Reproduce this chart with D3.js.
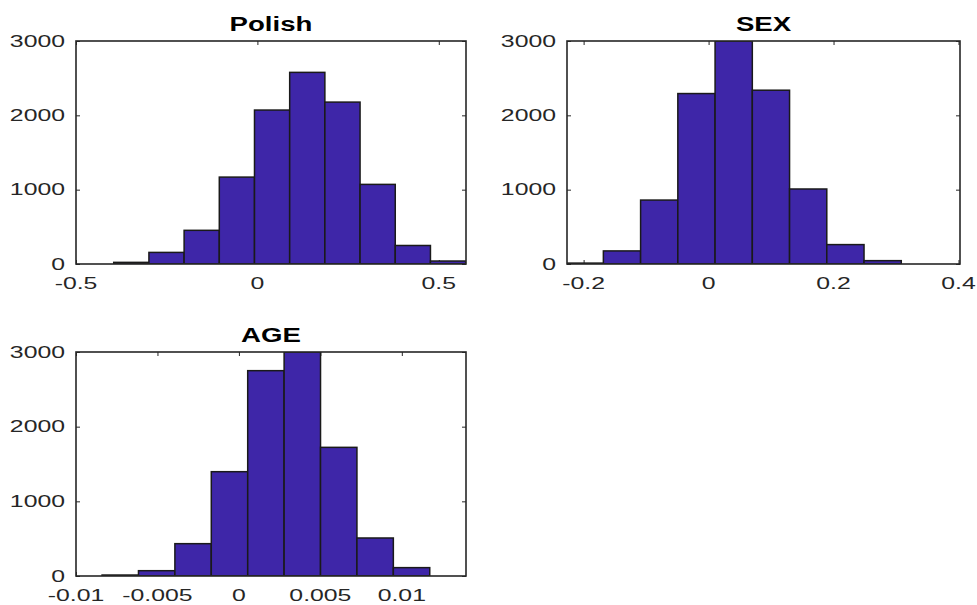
<!DOCTYPE html>
<html>
<head>
<meta charset="utf-8">
<script src="https://cdn.jsdelivr.net/npm/d3@7"></script>
<style>
  body { margin: 0; background: #fff; }
  svg { display: block; font-family: "Liberation Sans", Arial, Helvetica, sans-serif; }
</style>
</head>
<body>
<div id="chart"></div>
<script>
// histogram data (bin edges + counts per bin)
const edgesPolish = [-0.396, -0.299, -0.202, -0.105, -0.008, 0.089, 0.186, 0.283, 0.380, 0.477, 0.574];
const countsPolish = [22, 156, 453, 1169, 2071, 2578, 2178, 1071, 249, 40];

const edgesSex = [-0.228, -0.1684, -0.1088, -0.0492, 0.0104, 0.0700, 0.1296, 0.1892, 0.2488, 0.3084, 0.3680];
const countsSex = [12, 176, 860, 2293, 3000, 2338, 1009, 261, 45, 0];

const edgesAge = [-0.0084, -0.006165, -0.00393, -0.001695, 0.00054, 0.002775, 0.00501, 0.007245, 0.00948, 0.011715, 0.01395];
const countsAge = [13, 71, 433, 1397, 2750, 3000, 1723, 509, 112, 0];

const xTicksPolish = [-0.5, 0, 0.5];
const xLabelsPolish = ["-0.5", "0", "0.5"];
const xTicksSex = [-0.2, 0, 0.2, 0.4];
const xLabelsSex = ["-0.2", "0", "0.2", "0.4"];
const xTicksAge = [-0.01, -0.005, 0, 0.005, 0.01];
const xLabelsAge = ["-0.01", "-0.005", "0", "0.005", "0.01"];

const yTicks = [0, 1000, 2000, 3000];
const yLabels = ["0", "1000", "2000", "3000"];

const width = 977, height = 605;
const barColor = "#3e26a8";
const axisColor = "#262626";
const tickLen = 4;
const labelStretch = 1.55;
const titleStretch = 1.38;

const panels = [
  { title: "Polish", edges: edgesPolish, counts: countsPolish, xDomain: [-0.5, 0.575],
    xTicks: xTicksPolish, xLabels: xLabelsPolish, x: 76, y: 41, w: 390, h: 223 },
  { title: "SEX", edges: edgesSex, counts: countsSex, xDomain: [-0.2266, 0.4024],
    xTicks: xTicksSex, xLabels: xLabelsSex, x: 567, y: 41, w: 393, h: 223 },
  { title: "AGE", edges: edgesAge, counts: countsAge, xDomain: [-0.01, 0.01394],
    xTicks: xTicksAge, xLabels: xLabelsAge, x: 76, y: 352, w: 390, h: 224 }
];

const svg = d3.select("#chart")
    .append("svg")
    .attr("width", width)
    .attr("height", height);

panels.forEach((p, i) => {
    const xScale = d3.scaleLinear().domain(p.xDomain).range([0, p.w]);
    const yScale = d3.scaleLinear().domain([0, 3000]).range([p.h, 0]);

    const g = svg.append("g").attr("transform", `translate(${p.x}, ${p.y})`);

    g.append("clipPath").attr("id", "clip" + i)
        .append("rect").attr("width", p.w).attr("height", p.h);

    // inward ticks on all four sides
    const tickStyle = sel => {
        sel.select(".domain").remove();
        sel.selectAll("text").remove();
        sel.selectAll("line").attr("stroke", axisColor);
    };
    g.append("g").attr("transform", `translate(0, ${p.h})`)
        .call(d3.axisBottom(xScale).tickValues(p.xTicks).tickSize(-tickLen)).call(tickStyle);
    g.append("g")
        .call(d3.axisTop(xScale).tickValues(p.xTicks).tickSize(-tickLen)).call(tickStyle);
    g.append("g")
        .call(d3.axisLeft(yScale).tickValues(yTicks).tickSize(-tickLen)).call(tickStyle);
    g.append("g").attr("transform", `translate(${p.w}, 0)`)
        .call(d3.axisRight(yScale).tickValues(yTicks).tickSize(-tickLen)).call(tickStyle);

    const bins = p.counts.map((c, k) => ({ x0: p.edges[k], x1: p.edges[k + 1], n: c }));

    g.append("g").attr("clip-path", `url(#clip${i})`)
        .selectAll("rect")
        .data(bins.filter(d => d.n > 0))
        .join("rect")
        .attr("x", d => xScale(d.x0))
        .attr("y", d => yScale(d.n))
        .attr("width", d => xScale(d.x1) - xScale(d.x0))
        .attr("height", d => yScale(0) - yScale(d.n))
        .attr("fill", barColor)
        .attr("stroke", "#1a1a1a")
        .attr("stroke-width", 1.5);

    g.append("rect")
        .attr("width", p.w).attr("height", p.h)
        .attr("fill", "none")
        .attr("stroke", axisColor)
        .attr("stroke-width", 1.6);

    // tick labels
    g.selectAll(".xlab")
        .data(p.xTicks)
        .join("text")
        .attr("transform", d => `translate(${xScale(d)}, ${p.h + 25}) scale(${labelStretch}, 1)`)
        .attr("text-anchor", "middle")
        .attr("font-size", 16)
        .attr("fill", axisColor)
        .text((d, k) => p.xLabels[k]);

    g.selectAll(".ylab")
        .data(yTicks)
        .join("text")
        .attr("transform", d => `translate(-11, ${yScale(d)}) scale(${labelStretch}, 1)`)
        .attr("text-anchor", "end")
        .attr("dy", "0.36em")
        .attr("font-size", 16)
        .attr("fill", axisColor)
        .text((d, k) => yLabels[k]);

    g.append("text")
        .attr("transform", `translate(${p.w / 2}, -10) scale(${titleStretch}, 1)`)
        .attr("text-anchor", "middle")
        .attr("font-size", 20)
        .attr("font-weight", "bold")
        .attr("fill", "#000")
        .text(p.title);
});
</script>
</body>
</html>
